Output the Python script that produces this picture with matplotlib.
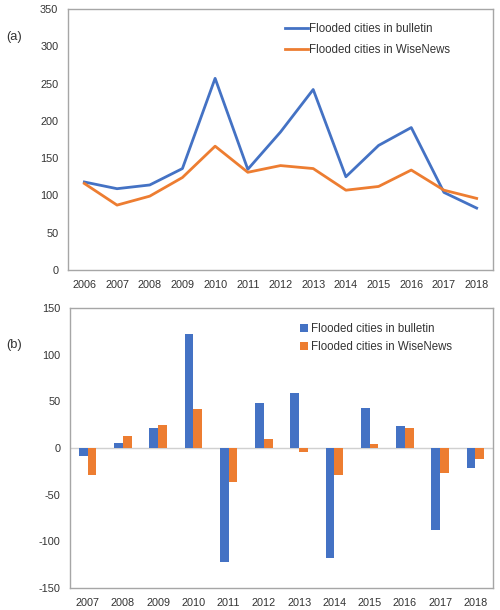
import numpy as np
import matplotlib
matplotlib.use("Agg")
import matplotlib.pyplot as plt

plt.rcParams["font.family"] = ["Liberation Sans", "DejaVu Sans"]
plt.rcParams["axes.unicode_minus"] = False

years_a = ["2006", "2007", "2008", "2009", "2010", "2011", "2012",
           "2013", "2014", "2015", "2016", "2017", "2018"]
bulletin = [118, 109, 114, 136, 257, 135, 185, 242, 125, 167, 191, 104, 83]
wisenews = [116, 87, 99, 124, 166, 131, 140, 136, 107, 112, 134, 107, 96]

years_b = years_a[1:]
bulletin_diff = [-9, 5, 21, 122, -122, 48, 59, -118, 43, 24, -88, -21]
wisenews_diff = [-29, 13, 25, 42, -36, 10, -4, -29, 4, 22, -27, -12]

BLUE = "#4472C4"
ORANGE = "#ED7D31"
SPINE = "#A6A6A6"
TXT = "#333333"
FS = 7.8

fig = plt.figure(figsize=(5, 6.1), dpi=100)


def style(ax):
    for s in ax.spines.values():
        s.set_color(SPINE)
        s.set_linewidth(1.0)
    ax.tick_params(length=0, labelsize=FS, colors=TXT, pad=7)


# (a) line chart
ax1 = fig.add_axes([0.136, 0.5574, 0.85, 0.4279])
x = np.arange(len(years_a))
ax1.plot(x, bulletin, color=BLUE, lw=2, label="Flooded cities in bulletin")
ax1.plot(x, wisenews, color=ORANGE, lw=2, label="Flooded cities in WiseNews")
ax1.set_xlim(-0.5, len(years_a) - 0.5)
ax1.set_ylim(0, 350)
ax1.set_yticks(range(0, 351, 50))
ax1.set_xticks(x)
ax1.set_xticklabels(years_a)
style(ax1)
ax1.legend(loc="upper left", bbox_to_anchor=(0.485, 0.985), frameon=False,
           fontsize=FS + 0.5, handlelength=2.0, handletextpad=0.15,
           labelspacing=0.75, labelcolor=TXT)
fig.text(0.012, 0.939, "(a)", fontsize=FS + 1.5, color=TXT, va="center")

# (b) bar chart of year-on-year change
ax2 = fig.add_axes([0.14, 0.036, 0.846, 0.459])
xb = np.arange(len(years_b))
w = 0.25
ax2.bar(xb - w / 2, bulletin_diff, w, color=BLUE, label="Flooded cities in bulletin")
ax2.bar(xb + w / 2, wisenews_diff, w, color=ORANGE, label="Flooded cities in WiseNews")
ax2.axhline(0, color="#D0D0D0", lw=1.0, zorder=0)
ax2.set_xlim(-0.5, len(years_b) - 0.5)
ax2.set_ylim(-150, 150)
ax2.set_yticks(range(-150, 151, 50))
ax2.set_xticks(xb)
ax2.set_xticklabels(years_b)
style(ax2)
ax2.legend(loc="upper left", bbox_to_anchor=(0.52, 0.985), frameon=False,
           fontsize=FS + 0.5, handlelength=0.7, handleheight=0.7,
           handletextpad=0.2, labelspacing=0.55, labelcolor=TXT)
fig.text(0.012, 0.435, "(b)", fontsize=FS + 1.5, color=TXT, va="center")

fig.savefig("out.png", dpi=100)
